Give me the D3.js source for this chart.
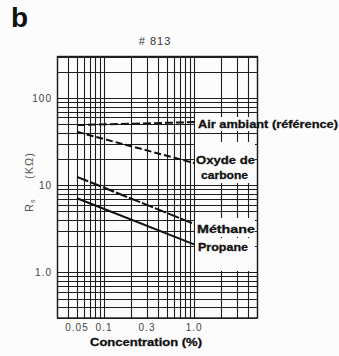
<!DOCTYPE html>
<html>
<head>
<meta charset="utf-8">
<script src="https://cdn.jsdelivr.net/npm/d3@7/dist/d3.min.js"></script>
<style>
  html, body { margin: 0; padding: 0; background: #fcfcfc; }
  svg { display: block; }
  text { font-family: "Liberation Sans", Arial, sans-serif; }
</style>
</head>
<body>
<svg id="chart" width="339" height="356"></svg>
<script>
// Sensor response: resistance Rs (kΩ) against gas concentration (%)
const concentrations = [0.05, 1.0];
const airAmbient     = [49, 53];
const carbonMonoxide = [41, 18];
const methane        = [12.5, 3.6];
const propane        = [7.1, 2.1];

const xTickValues = [0.05, 0.1, 0.3, 1.0];
const xTickLabels = ["0.05", "0.1", "0.3", "1.0"];
const yTickValues = [100, 10, 1];
const yTickLabels = ["100", "10", "1.0"];

const seriesNames = ["Air ambiant (référence)", "Oxyde de carbone", "Méthane", "Propane"];
const seriesValues = [airAmbient, carbonMonoxide, methane, propane];

const svg = d3.select("#chart");
const plotLeft = 57, plotRight = 257, plotTop = 56.5, plotBottom = 318;

const x = d3.scaleLog().domain([0.03, 5]).range([plotLeft, plotRight]);
const y = d3.scaleLog().domain([0.3, 300]).range([plotBottom, plotTop]);

// log-paper grid: one line per unit step within each decade
const xGrid = [];
[0.01, 0.1, 1].forEach(dec => d3.range(1, 10).forEach(k => {
  const v = +(k * dec).toPrecision(3);
  if (v >= 0.03 && v <= 5) xGrid.push(v);
}));
const yGrid = [];
[0.1, 1, 10, 100].forEach(dec => d3.range(1, 10).forEach(k => {
  const v = +(k * dec).toPrecision(3);
  if (v >= 0.3 && v <= 300) yGrid.push(v);
}));

const grid = svg.append("g").attr("stroke", "#1e1e1e").attr("stroke-width", 1.1);
grid.selectAll("line.v").data(xGrid).join("line")
  .attr("x1", d => Math.round(x(d)) + 0.5).attr("x2", d => Math.round(x(d)) + 0.5)
  .attr("y1", plotTop).attr("y2", plotBottom);
grid.selectAll("line.h").data(yGrid).join("line")
  .attr("y1", d => Math.round(y(d)) + 0.5).attr("y2", d => Math.round(y(d)) + 0.5)
  .attr("x1", plotLeft).attr("x2", plotRight);

// series lines
const line = d3.line().x(d => x(d[0])).y(d => y(d[1]));
const dashes = ["8,3", "7,3", "12,2", null];
seriesValues.forEach((vals, i) => {
  svg.append("path")
    .datum(concentrations.map((c, j) => [c, vals[j]]))
    .attr("d", line)
    .attr("fill", "none")
    .attr("stroke", "#111")
    .attr("stroke-width", 2)
    .attr("stroke-dasharray", dashes[i]);
});

// white label panels over the grid
const panels = [
  [195, 117, 339, 131],
  [195, 142, 255, 183],
  [195, 218, 255, 237],
  [195, 238, 255, 271]
];
svg.append("g").selectAll("rect").data(panels).join("rect")
  .attr("x", d => d[0]).attr("y", d => d[1])
  .attr("width", d => d[2] - d[0]).attr("height", d => d[3] - d[1])
  .attr("fill", "#fcfcfc");

// frame
svg.append("rect")
  .attr("x", plotLeft + 0.5).attr("y", plotTop).attr("width", plotRight - plotLeft).attr("height", plotBottom - plotTop)
  .attr("fill", "none").attr("stroke", "#1e1e1e").attr("stroke-width", 1.4);

// series labels
const labelLines = [
  [[seriesNames[0], 198, 128, 140]],
  [["Oxyde de", 196, 164, 59], ["carbone", 201, 179, 47]],
  [[seriesNames[2], 197, 233, 58]],
  [[seriesNames[3], 198, 251, 50]]
];
labelLines.forEach(rows => rows.forEach(r => {
  svg.append("text")
    .attr("x", r[1]).attr("y", r[2])
    .attr("textLength", r[3]).attr("lengthAdjust", "spacingAndGlyphs")
    .attr("font-size", 11).attr("font-weight", "bold").attr("fill", "#111")
    .attr("stroke", "#111").attr("stroke-width", 0.3)
    .text(r[0]);
}));

// axis tick labels
svg.append("g").selectAll("text").data(xTickValues).join("text")
  .attr("x", d => x(d)).attr("y", 331)
  .attr("text-anchor", "middle").attr("font-size", 10).attr("letter-spacing", 1)
  .attr("fill", "#444")
  .text((d, i) => xTickLabels[i]);
svg.append("g").selectAll("text").data(yTickValues).join("text")
  .attr("x", 52).attr("y", d => y(d) + 3.5)
  .attr("text-anchor", "end").attr("font-size", 10).attr("letter-spacing", 1)
  .attr("fill", "#444")
  .text((d, i) => yTickLabels[i]);

// axis titles
svg.append("text")
  .attr("x", 146).attr("y", 346).attr("text-anchor", "middle")
  .attr("font-size", 11.5).attr("font-weight", "bold").attr("fill", "#111")
  .attr("stroke", "#111").attr("stroke-width", 0.3)
  .attr("textLength", 112).attr("lengthAdjust", "spacingAndGlyphs")
  .text("Concentration (%)");

const yTitle = svg.append("text")
  .attr("transform", "translate(33,212) rotate(-90)")
  .attr("font-size", 11).attr("fill", "#555").attr("letter-spacing", 1);
yTitle.append("tspan").text("R");
yTitle.append("tspan").attr("font-size", 7).attr("dy", 2).text("s");
yTitle.append("tspan").attr("x", 33).attr("dy", -2).text("(KΩ)");

// sensor reference and panel letter
svg.append("text")
  .attr("x", 155).attr("y", 45).attr("text-anchor", "middle")
  .attr("font-size", 11).attr("fill", "#333").attr("letter-spacing", 1)
  .text("# 813");
svg.append("text")
  .attr("x", 11).attr("y", 27)
  .attr("font-size", 28).attr("font-weight", "bold").attr("fill", "#111")
  .text("b");
</script>
</body>
</html>
